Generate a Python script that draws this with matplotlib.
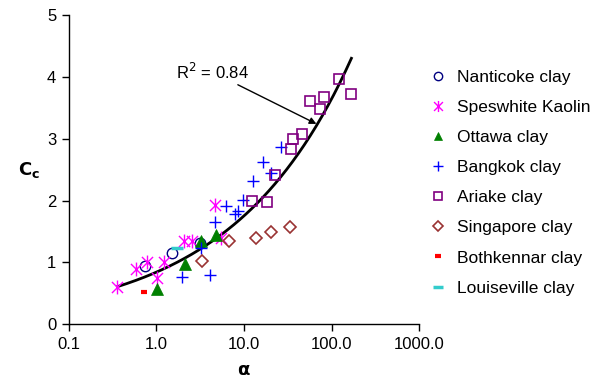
import numpy as np
import matplotlib
matplotlib.use("Agg")
import matplotlib.pyplot as plt
from matplotlib.path import Path

plt.rcParams['font.family'] = ['Liberation Sans', 'DejaVu Sans']

# Compression index Cc versus alpha for each clay
nanticoke_a = [0.74, 1.52, 3.12]
nanticoke_cc = [0.95, 1.16, 1.31]

speswhite_a = [0.36, 0.59, 0.78, 1.03, 1.21, 2.07, 2.58, 4.63, 5.52]
speswhite_cc = [0.60, 0.89, 1.00, 0.75, 1.01, 1.35, 1.34, 1.93, 1.39]

ottawa_a = [1.02, 2.10, 3.20, 4.84]
ottawa_cc = [0.57, 0.97, 1.35, 1.45]

bangkok_a = [1.98, 4.13, 3.20, 4.72, 6.18, 7.83, 8.55, 9.74, 12.7, 16.5, 20.2, 26.2]
bangkok_cc = [0.76, 0.79, 1.24, 1.66, 1.92, 1.78, 1.83, 2.01, 2.31, 2.63, 2.44, 2.87]

ariake_a = [12.4, 18.2, 22.8, 34.8, 36.3, 45.9, 56.2, 74.5, 81.9, 120.6, 165.0]
ariake_cc = [2.00, 1.98, 2.41, 2.84, 3.00, 3.08, 3.61, 3.48, 3.68, 3.97, 3.72]

singapore_a = [3.35, 6.74, 13.6, 20.5, 33.9]
singapore_cc = [1.02, 1.34, 1.39, 1.50, 1.58]

bothkennar_a = [0.72]
bothkennar_cc = [0.53]

louiseville_a = [1.72]
louiseville_cc = [1.24]

# Power-law trend line Cc = a * alpha^b
fit_a = 0.843
fit_b = 0.318
fit_range = (0.36, 168.0)
fit_r2 = 0.84

x_ticks = [0.1, 1, 10, 100, 1000]
x_tick_labels = ["0.1", "1.0", "10.0", "100.0", "1000.0"]
y_ticks = [0, 1, 2, 3, 4, 5]

# Star marker: an X crossed by a vertical bar
star = Path([(-1, -1), (1, 1), (-1, 1), (1, -1), (0, -1.25), (0, 1.25)],
            [Path.MOVETO, Path.LINETO, Path.MOVETO, Path.LINETO,
             Path.MOVETO, Path.LINETO])

fig = plt.figure(figsize=(5.99, 3.86), dpi=100)
ax = fig.add_axes([0.1147, 0.1598, 0.5853, 0.8013])

alpha_fit = np.geomspace(*fit_range, 200)
ax.plot(alpha_fit, fit_a * alpha_fit ** fit_b, color='black', lw=2, zorder=3)

ax.plot(nanticoke_a, nanticoke_cc, ls='none', marker='o', ms=7.5, mfc='none',
        mec='#000080', mew=1, label='Nanticoke clay', zorder=4)
ax.plot(speswhite_a, speswhite_cc, ls='none', marker=star, ms=10, mfc='none',
        mec='#FF00FF', mew=1, label='Speswhite Kaolin', zorder=4)
ax.plot(ottawa_a, ottawa_cc, ls='none', marker='^', ms=8, mfc='#008000',
        mec='#008000', mew=0.5, label='Ottawa clay', zorder=4)
ax.plot(bangkok_a, bangkok_cc, ls='none', marker='+', ms=9, mec='#0000FF',
        mew=1, label='Bangkok clay', zorder=4)
ax.plot(ariake_a, ariake_cc, ls='none', marker='s', ms=7.5, mfc='none',
        mec='#800080', mew=1.2, label='Ariake clay', zorder=4)
ax.plot(singapore_a, singapore_cc, ls='none', marker='D', ms=6.5, mfc='none',
        mec='#993333', mew=1.2, label='Singapore clay', zorder=4)
ax.plot(bothkennar_a, bothkennar_cc, ls='none', marker='_', ms=5, mec='#FF0000',
        mew=3, label='Bothkennar clay', zorder=4)
ax.plot(louiseville_a, louiseville_cc, ls='none', marker='_', ms=9,
        mec='#33CCCC', mew=2.5, label='Louiseville clay', zorder=4)

ax.annotate(f"R$^2$ = {fit_r2:.2f}", xy=(67, 3.24), xytext=(1.66, 4.08),
            fontsize=12, va='center', ha='left',
            arrowprops=dict(arrowstyle='-|>', color='black', lw=1,
                            mutation_scale=10, shrinkA=0, shrinkB=0))

ax.set_xscale('log')
ax.set_xlim(0.1, 1000)
ax.set_ylim(0, 5)
ax.set_xticks(x_ticks)
ax.set_xticklabels(x_tick_labels)
ax.xaxis.set_minor_locator(matplotlib.ticker.NullLocator())
ax.set_yticks(y_ticks)
ax.tick_params(axis='both', direction='out', length=5, width=1, labelsize=12,
               pad=4)
for side in ('top', 'right'):
    ax.spines[side].set_visible(False)
for side in ('left', 'bottom'):
    ax.spines[side].set_linewidth(1)

ax.set_xlabel(r'$\mathbf{\alpha}$', fontsize=13, labelpad=7)
ax.set_ylabel(r'$\mathbf{C_c}$', fontsize=13, rotation=0, labelpad=13,
              va='center')

fig.legend(loc='upper left', bbox_to_anchor=(0.7022, 0.837), frameon=False,
           fontsize=12.5, labelspacing=0.86, handletextpad=0.5,
           handlelength=1.2, borderaxespad=0, markerscale=0.8)

fig.savefig('out.png', dpi=100)
